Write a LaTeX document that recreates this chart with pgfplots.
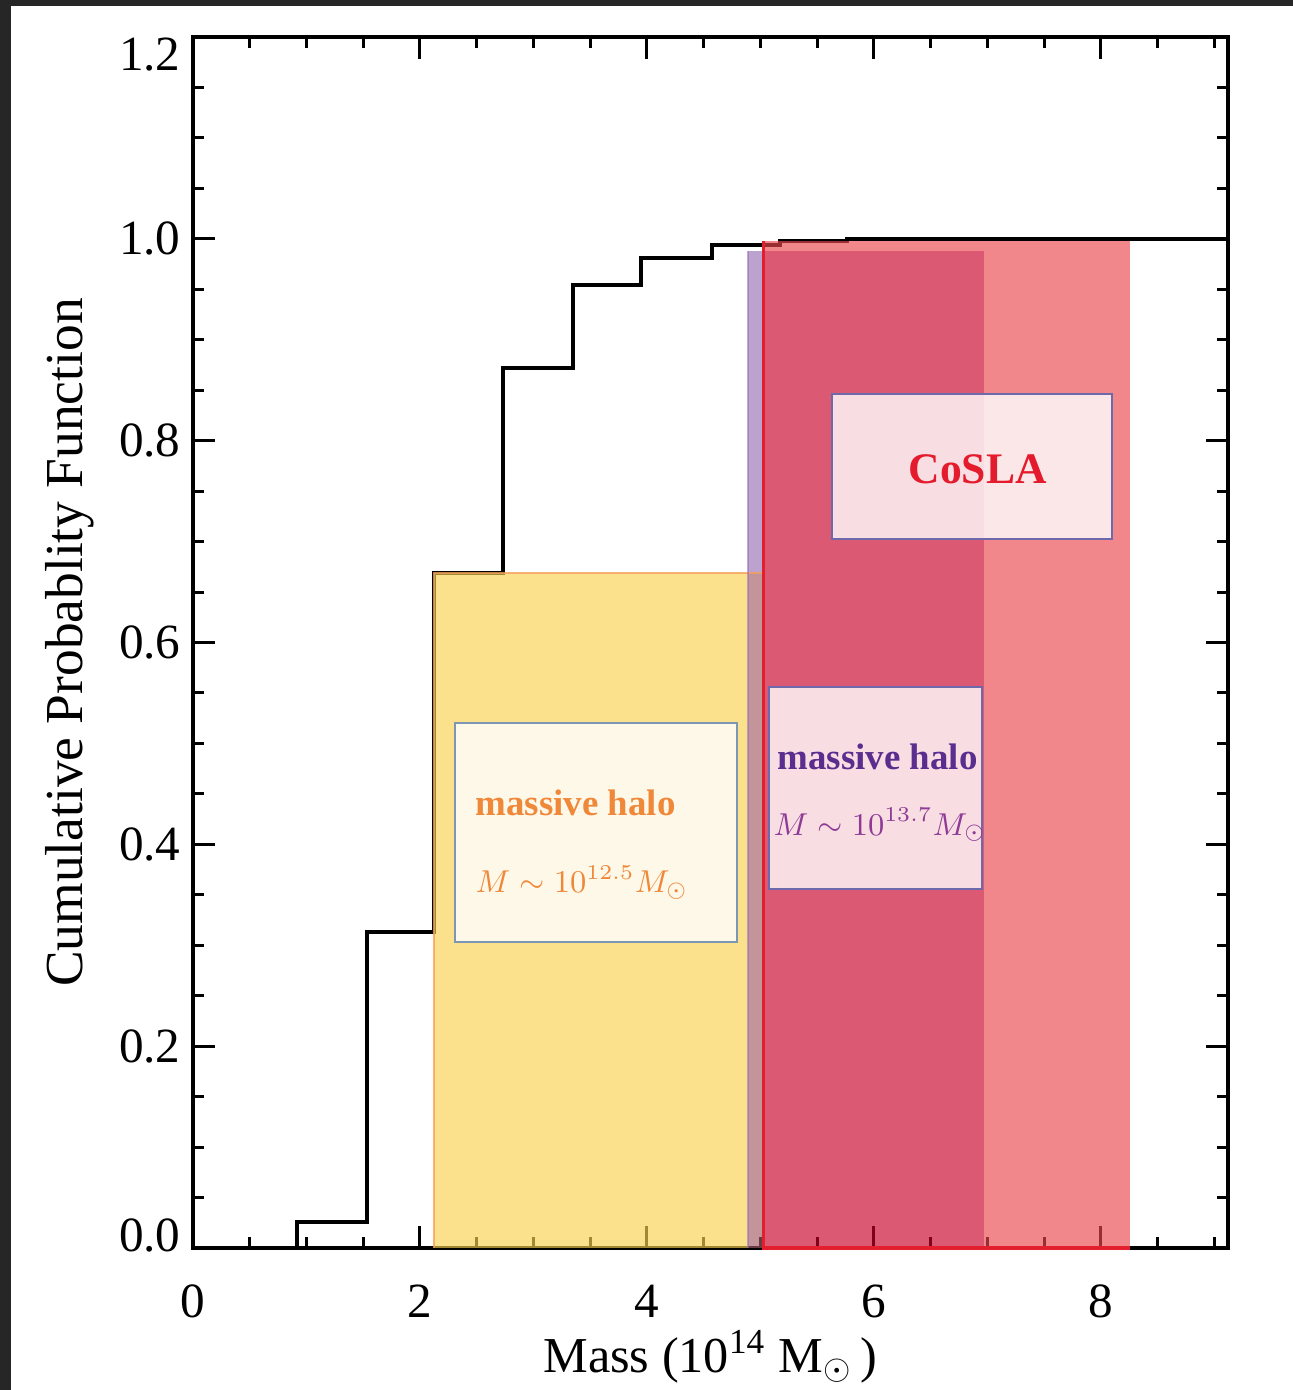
\documentclass[border=0pt]{standalone}
\usepackage{fontspec}
\setmainfont{Liberation Serif}
\usepackage{pgfplots}
\pgfplotsset{compat=1.18}
\definecolor{frameC}{HTML}{262626}
\definecolor{yelC}{RGB}{249,209,77}
\definecolor{mixC}{RGB}{164,90,101}
\definecolor{purC}{RGB}{150,112,181}
\definecolor{dredC}{RGB}{201,0,41}
\definecolor{lredC}{RGB}{235,70,77}
\definecolor{redline}{RGB}{227,30,45}
\definecolor{orline}{RGB}{245,160,90}
\definecolor{orText}{RGB}{240,136,58}
\definecolor{purText}{RGB}{91,45,142}
\definecolor{purMath}{RGB}{142,58,150}
\definecolor{redText}{RGB}{227,27,44}
\definecolor{boxA}{RGB}{125,150,180}
\definecolor{boxB}{RGB}{110,105,170}
\begin{document}
\begin{tikzpicture}
\path[use as bounding box] (-19.3mm,-14.2mm) rectangle (110.0mm,124.8mm);
\begin{axis}[
  scale only axis,
  width=103.5mm, height=121.1mm,
  xmin=0, xmax=9.12, ymin=0, ymax=1.2,
  axis line style={line width=1.1pt, black},
  tick style={line width=0.85pt, black},
  tick align=inside,
  xtick pos=both, ytick pos=both,
  major tick length=2.2mm, minor tick length=1.1mm,
  xtick={0,2,4,6,8},
  xticklabels={0,2,4,6,8},
  minor xtick={0.5,1,...,9},
  ytick={0,0.2,0.4,0.6,0.8,1.0,1.2},
  yticklabels={\raisebox{1.4mm}[3.5mm][0pt]{0.0},0.2,0.4,0.6,0.8,1.0,\raisebox{-1.6mm}[3.5mm][0pt]{1.2}},
  minor ytick={0.05,0.1,...,1.2},
  tick label style={font=\fontsize{14}{16}\selectfont},
  xticklabel style={anchor=base, yshift=-6.9mm},
  xlabel={Mass (10\textsuperscript{14} M$_\odot\,$)},
  xlabel style={font=\fontsize{14.3}{17}\selectfont, at={(axis description cs:0.5,-0.1024)}, anchor=base},
  ylabel={Cumulative Probablity Function},
  ylabel style={font=\fontsize{15.2}{18}\selectfont, at={(axis description cs:-0.1063,0.5)}, anchor=base},
  clip=false,
]
% cumulative step function
\addplot[const plot, black, line width=1.15pt, line join=miter] coordinates {
  (0.62,0) (0.92,0.026) (1.53,0.313) (2.12,0.669) (2.73,0.872) (3.35,0.954)
  (3.95,0.981) (4.57,0.994) (5.17,0.998) (5.76,1.0) (9.12,1.0)};
% shaded mass ranges
\addplot[draw=none, fill=yelC, fill opacity=0.65] coordinates {(2.12,0) (2.12,0.669) (4.89,0.669) (4.89,0)} -- cycle;
\addplot[draw=none, fill=mixC, fill opacity=0.65] coordinates {(4.89,0) (4.89,0.669) (5.03,0.669) (5.03,0)} -- cycle;
\addplot[draw=none, fill=purC, fill opacity=0.65] coordinates {(4.89,0.669) (4.89,0.988) (5.03,0.988) (5.03,0.669)} -- cycle;
\addplot[draw=none, fill=dredC, fill opacity=0.65] coordinates {(5.03,0) (5.03,0.988) (6.97,0.988) (6.97,0)} -- cycle;
\addplot[draw=none, fill=lredC, fill opacity=0.65] coordinates {(5.03,0.988) (5.03,0.998) (6.97,0.998) (6.97,0.988)} -- cycle;
\addplot[draw=none, fill=lredC, fill opacity=0.65] coordinates {(6.97,0) (6.97,0.998) (8.26,0.998) (8.26,0)} -- cycle;
\addplot[orline, line width=0.6pt, opacity=0.8] coordinates {(2.12,0) (2.12,0.669) (5.03,0.669)};
\addplot[purC, line width=0.5pt, opacity=0.6] coordinates {(4.89,0) (4.89,0.988)};
\addplot[redline, line width=0.9pt] coordinates {(5.03,0.998) (5.03,0) (8.26,0)};
% text boxes
\draw[boxA, line width=0.6pt, fill=white, fill opacity=0.8] (axis cs:2.308,0.303) rectangle (axis cs:4.793,0.520);
\draw[boxB, line width=0.6pt, fill=white, fill opacity=0.8] (axis cs:5.075,0.356) rectangle (axis cs:6.952,0.556);
\draw[boxB, line width=0.6pt, fill=white, fill opacity=0.8] (axis cs:5.630,0.703) rectangle (axis cs:8.097,0.846);
\node[anchor=base west, inner sep=0pt, text=orText, font=\fontsize{10.5}{12}\selectfont\bfseries] at (axis cs:2.485,0.429) {massive halo};
\node[anchor=base west, inner sep=0pt, text=orText, font=\fontsize{9}{11}\selectfont] at (axis cs:2.485,0.352) {$M\sim10^{12.5}M_{\odot}$};
\node[anchor=base west, inner sep=0pt, text=purText, font=\fontsize{10.5}{12}\selectfont\bfseries] at (axis cs:5.145,0.474) {massive halo};
\node[anchor=base west, inner sep=0pt, text=purMath, font=\fontsize{9}{11}\selectfont] at (axis cs:5.11,0.409) {$M\sim10^{13.7}M_{\odot}$};
\node[anchor=base west, inner sep=0pt, text=redText, font=\fontsize{12.4}{15}\selectfont\bfseries] at (axis cs:6.300,0.758) {CoSLA};
\end{axis}
\fill[frameC] (-19.3mm,124.2mm) rectangle (110.0mm,124.8mm);
\fill[frameC] (-19.3mm,-14.2mm) rectangle (-18.2mm,124.8mm);
\end{tikzpicture}
\end{document}
